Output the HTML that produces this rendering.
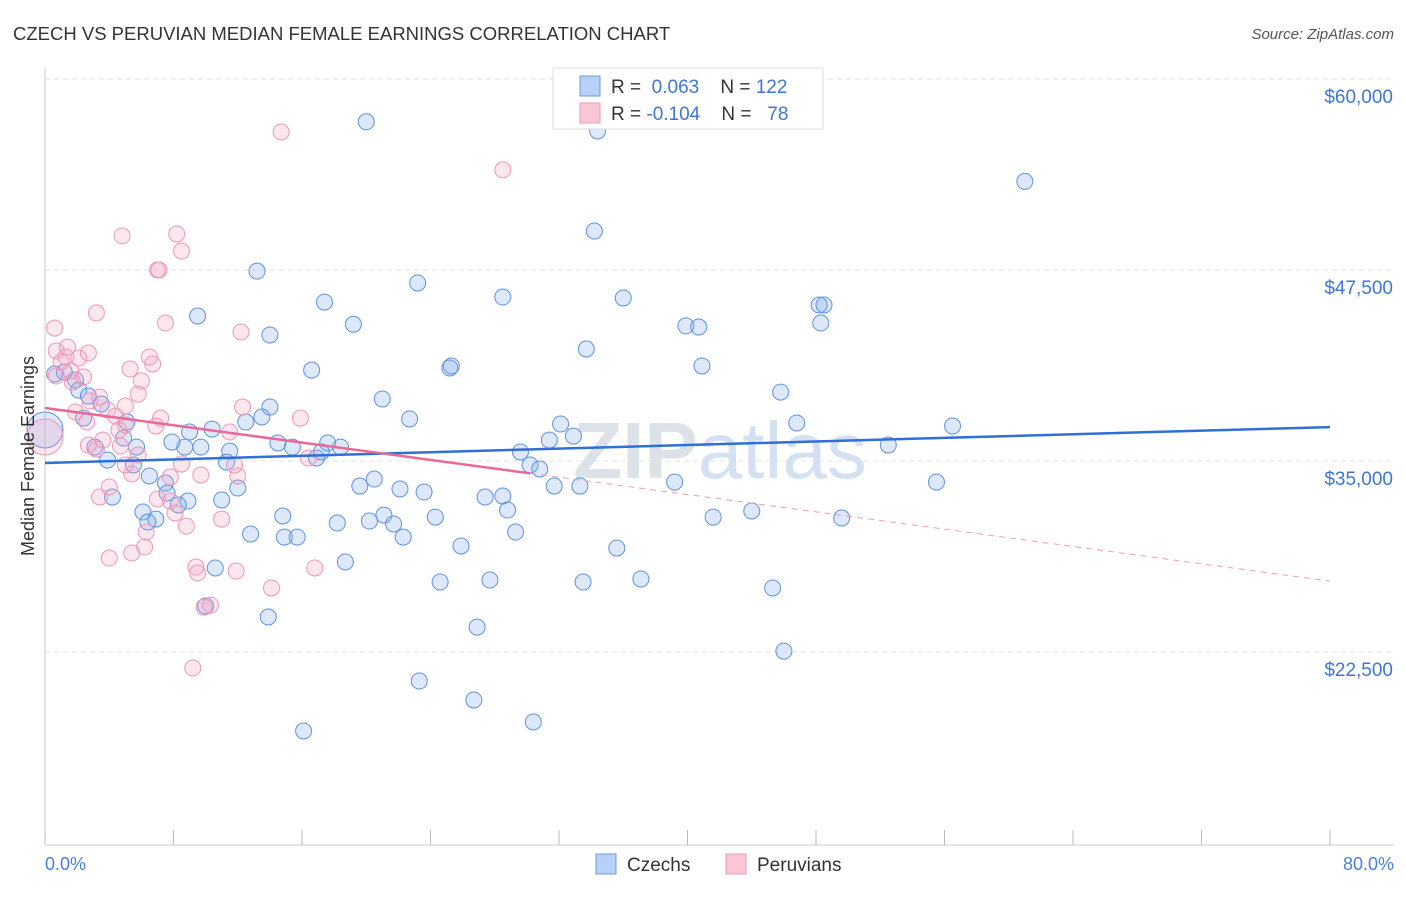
<!DOCTYPE html>
<html><head><meta charset="utf-8"><style>
body{margin:0;background:#fff;font-family:"Liberation Sans",sans-serif}
svg text{font-family:"Liberation Sans",sans-serif}
</style></head><body>
<svg id="chart" width="1406" height="892" viewBox="0 0 1406 892" xmlns="http://www.w3.org/2000/svg">
<text x="13" y="40" font-size="18.5" fill="#333">CZECH VS PERUVIAN MEDIAN FEMALE EARNINGS CORRELATION CHART</text>
<text x="1394" y="39" font-size="15" fill="#555" text-anchor="end" font-style="italic">Source: ZipAtlas.com</text>
<g id="grid"></g>
<g id="axes"></g>
<text x="720" y="478" font-size="80" fill="#e3e8ee" text-anchor="middle" font-family="Liberation Serif"><tspan font-weight="bold" fill="#dde2e8">ZIP</tspan><tspan fill="#d3e1f3">atlas</tspan></text>
<g id="pts"></g>
<g id="lines"></g>
<text transform="translate(34,456) rotate(-90)" font-size="18" fill="#333" text-anchor="middle">Median Female Earnings</text>
<text x="45" y="870" font-size="18" fill="#4a7fd8">0.0%</text>
<text x="1394" y="870" font-size="18" fill="#4a7fd8" text-anchor="end">80.0%</text>
<g>
<rect x="553" y="68" width="270" height="61" fill="#fff" stroke="#ddd"/>
<rect x="580" y="76" width="20" height="20" fill="#b7d0f5" stroke="#6f9be0"/>
<rect x="580" y="103" width="20" height="20" fill="#f9c6d6" stroke="#ee9ab8"/>
<text x="611" y="93" font-size="19" fill="#333">R = <tspan fill="#3e76d6">&#160;0.063</tspan>&#160;&#160;&#160;&#160;N = <tspan fill="#3e76d6">122</tspan></text>
<text x="611" y="120" font-size="19" fill="#333">R = <tspan fill="#3e76d6">-0.104</tspan>&#160;&#160;&#160;&#160;N = <tspan fill="#3e76d6">&#160;&#160;78</tspan></text>
</g>
<g>
<rect x="596" y="854" width="20" height="20" fill="#b7d0f5" stroke="#6f9be0"/>
<text x="627" y="871" font-size="19" fill="#333">Czechs</text>
<rect x="726" y="854" width="20" height="20" fill="#f9c6d6" stroke="#ee9ab8"/>
<text x="757" y="871" font-size="19" fill="#333">Peruvians</text>
</g>
</svg>
<script>
const yTicks=[60000,47500,35000,22500];
const yTickLabels=["$60,000","$47,500","$35,000","$22,500"];
const xTicks=[0,8,16,24,32,40,48,56,64,72,80];
const czX=[20.0,34.4,61.0,34.2,13.2,23.2,17.4,28.5,36.0,9.5,48.2,48.5,19.2,39.9,40.7,48.3,14.0,33.7,25.2,25.3,40.9,16.6,1.2,0.6,1.9,45.8,2.1,21.0,14.0,3.5,2.7,13.5,22.7,12.5,46.8,56.5,32.1,5.1,10.4,9.0,2.4,32.9,31.4,4.9,14.5,15.4,17.6,18.4,7.9,8.7,9.7,11.5,5.7,3.1,29.6,52.5,3.9,16.9,17.2,30.2,30.8,5.5,11.3,6.5,7.5,12.0,19.6,20.5,31.7,33.3,39.2,55.5,22.1,23.6,7.6,8.9,8.3,4.2,11.0,27.4,28.5,28.8,6.1,6.9,6.4,14.8,21.1,20.2,21.7,24.3,41.6,44.0,49.6,18.2,12.8,14.9,15.7,22.3,29.3,25.9,35.6,18.7,10.6,24.6,27.7,33.5,37.1,45.3,10.0,13.9,26.9,46.0,23.3,26.7,16.1,30.4,0.0];
const czY=[57200,56600,53300,50050,47430,46650,45400,45730,45670,44490,45210,45210,43950,43840,43770,44030,43250,42330,41090,41220,41220,40950,40820,40690,40300,39510,39640,39060,38530,38730,39250,37880,37750,37550,37490,37290,37420,37550,37090,36900,37810,36630,36370,36500,36180,35910,36180,35910,36240,35910,35910,35650,35910,35910,35590,36050,35060,35200,35590,34740,34480,34740,34930,34020,33560,33230,33360,33820,33360,33360,33620,33620,33170,32970,32900,32380,32120,32640,32450,32640,32710,31790,31660,31200,31010,31400,31460,31070,30880,31330,31330,31730,31270,30940,30220,30020,30020,30020,30350,29440,29300,28390,28000,27080,27210,27080,27280,26690,25510,24790,24130,22560,20600,19360,17330,17920,37030];
const peX=[14.7,28.5,4.8,8.2,8.5,7.0,7.1,3.2,0.6,7.5,12.2,0.7,2.7,1.3,6.5,1.4,6.7,2.1,1.0,1.6,5.3,0.7,1.7,2.4,6.0,5.8,3.4,2.8,5.0,12.3,3.9,1.9,4.4,7.2,15.9,2.6,5.0,4.6,6.9,11.5,3.6,2.7,3.2,4.7,5.8,16.4,8.5,5.0,11.8,7.8,12.0,9.7,5.4,4.0,3.4,7.0,7.8,8.1,11.0,8.8,6.3,6.2,5.4,4.0,9.4,9.5,11.9,16.8,14.1,10.3,9.9,9.2,0.0];
const peY=[56530,54050,49730,49860,48740,47500,47500,44690,43700,44030,43440,42200,42070,41810,41810,42460,41350,41740,41480,40890,41020,40560,40170,40500,40240,39380,39190,38930,38600,38530,38340,38210,37940,37810,37810,37550,37360,37030,37290,36900,36370,36050,35780,35980,35390,35200,34800,34740,34740,33950,34020,34080,34150,33300,32640,32510,32380,31600,31200,30740,30350,29370,28980,28650,28060,27670,27800,28000,26690,25570,25440,21450,36570];
const czBig=[116];
const peBig=[72];
const czTrend=[34870,37220];
const peTrend=[38470,27140];
const peSolidEnd=30.2;

const NS="http://www.w3.org/2000/svg";
const X0=45,X1=1330,YTOP=79;
function sx(v){return X0+(v/80)*(X1-X0);}
function sy(v){return YTOP+(60000-v)/12500*191;}
function mk(tag,attrs,parent){const e=document.createElementNS(NS,tag);for(const k in attrs)e.setAttribute(k,attrs[k]);parent.appendChild(e);return e;}
const grid=document.getElementById('grid'),axes=document.getElementById('axes'),pts=document.getElementById('pts'),lines=document.getElementById('lines');
yTicks.forEach((t,i)=>{
  const l=mk('line',{x1:X0,x2:1394,y1:sy(t),y2:sy(t),stroke:'#e2e2e2','stroke-dasharray':'5,4'},grid);
  
  
  const tx=mk('text',{x:1393,y:sy(t)+24,'font-size':19,fill:'#3e76d6','text-anchor':'end'},axes);
  tx.textContent=yTickLabels[i];
  
  
});
const ax=mk('line',{x1:X0,x2:1394,y1:845,y2:845,stroke:'#ccc'},axes);


const ay=mk('line',{x1:X0,x2:X0,y1:68,y2:845,stroke:'#ccc'},axes);


xTicks.forEach(t=>{
  const l=mk('line',{x1:sx(t),x2:sx(t),y1:830,y2:845,stroke:'#bbb'},axes);
  
  
});
function draw(xs,ys,big,fill,stroke,name){
  xs.forEach((x,i)=>{
    const c=mk('circle',{cx:sx(x),cy:sy(ys[i]),r:big.includes(i)?18:8,fill:fill,stroke:stroke,'stroke-width':1},pts);
    
    
  });
}
draw(czX,czY,czBig,'rgba(120,165,235,0.25)','#5f92e0','czech-point');
draw(peX,peY,peBig,'rgba(245,160,190,0.25)','#ef96b6','peruvian-point');
const bl=mk('line',{x1:sx(0),y1:sy(czTrend[0]),x2:sx(80),y2:sy(czTrend[1]),stroke:'#2f6fd6','stroke-width':2.5},lines);


const pAt=x=>peTrend[0]+(peTrend[1]-peTrend[0])*x/80;
const pl=mk('line',{x1:sx(0),y1:sy(peTrend[0]),x2:sx(peSolidEnd),y2:sy(pAt(peSolidEnd)),stroke:'#e8689a','stroke-width':2.5},lines);


const pd=mk('line',{x1:sx(peSolidEnd),y1:sy(pAt(peSolidEnd)),x2:sx(80),y2:sy(peTrend[1]),stroke:'#e8a0bb','stroke-width':1,'stroke-dasharray':'6,5'},lines);


</script>
</body></html>
